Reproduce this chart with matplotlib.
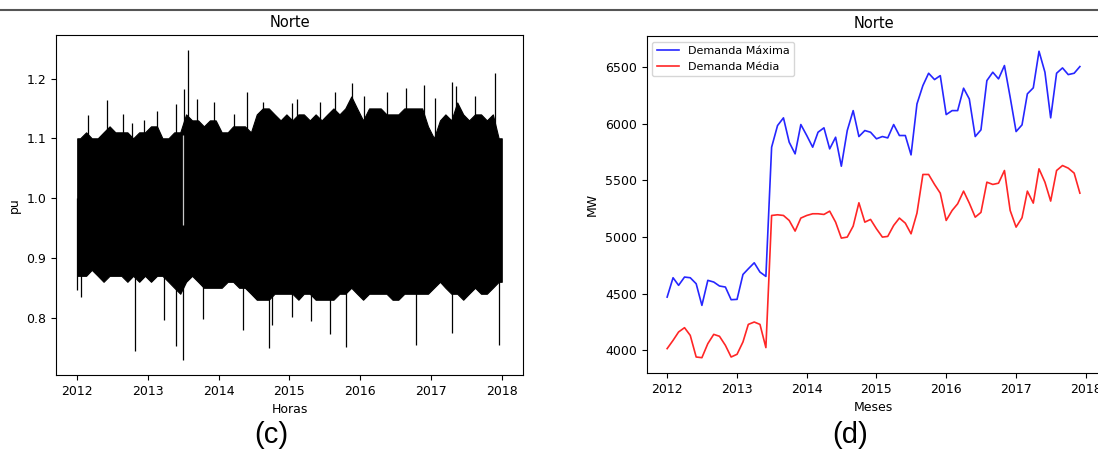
import pandas as pd
import matplotlib
matplotlib.use("Agg")
import matplotlib.pyplot as plt
import matplotlib.dates as mdates
from matplotlib.lines import Line2D

# --- hourly load in pu (Norte), reach of the daily swings per month ---
band_hi = [1.10, 1.11, 1.10, 1.10, 1.11, 1.12, 1.11, 1.11, 1.11, 1.10, 1.11, 1.11,
           1.12, 1.12, 1.10, 1.10, 1.11, 1.11, 1.14, 1.13, 1.13, 1.12, 1.13, 1.13,
           1.11, 1.11, 1.12, 1.12, 1.12, 1.11, 1.14, 1.15, 1.15, 1.14, 1.13, 1.14,
           1.13, 1.14, 1.14, 1.13, 1.14, 1.13, 1.14, 1.15, 1.14, 1.15, 1.17, 1.15,
           1.13, 1.15, 1.15, 1.15, 1.14, 1.14, 1.14, 1.15, 1.15, 1.15, 1.15, 1.12,
           1.10, 1.13, 1.14, 1.13, 1.16, 1.14, 1.13, 1.14, 1.14, 1.13, 1.14, 1.10]
band_lo = [0.87, 0.87, 0.88, 0.87, 0.86, 0.87, 0.87, 0.87, 0.86, 0.87, 0.86, 0.87,
           0.86, 0.87, 0.87, 0.86, 0.85, 0.84, 0.86, 0.87, 0.86, 0.85, 0.85, 0.85,
           0.85, 0.86, 0.86, 0.85, 0.85, 0.84, 0.83, 0.83, 0.83, 0.84, 0.84, 0.84,
           0.84, 0.83, 0.84, 0.84, 0.83, 0.83, 0.83, 0.83, 0.84, 0.84, 0.85, 0.84,
           0.83, 0.84, 0.84, 0.84, 0.84, 0.83, 0.83, 0.84, 0.84, 0.84, 0.84, 0.84,
           0.85, 0.86, 0.85, 0.84, 0.84, 0.83, 0.84, 0.85, 0.84, 0.84, 0.85, 0.86]

# isolated peaks / valleys (decimal year, pu)
peak_t = [2012.15, 2012.42, 2012.65, 2012.77, 2012.95, 2013.13, 2013.40, 2013.51,
          2013.57, 2013.69, 2013.93, 2014.22, 2014.40, 2014.63, 2015.03, 2015.10,
          2015.43, 2015.64, 2015.89, 2016.06, 2016.38, 2016.65, 2016.90, 2017.06,
          2017.29, 2017.35, 2017.62, 2017.90]
peak_v = [1.139, 1.164, 1.14, 1.126, 1.13, 1.146, 1.157, 1.182,
          1.247, 1.166, 1.161, 1.14, 1.178, 1.16, 1.159, 1.165,
          1.16, 1.178, 1.193, 1.17, 1.178, 1.184, 1.189, 1.167,
          1.195, 1.187, 1.17, 1.209]
valley_t = [2012.00, 2012.05, 2012.81, 2013.23, 2013.40, 2013.50, 2013.78, 2014.34,
            2014.71, 2014.75, 2015.04, 2015.31, 2015.57, 2015.80, 2016.79, 2017.30,
            2017.96]
valley_v = [0.846, 0.835, 0.745, 0.796, 0.752, 0.73, 0.797, 0.78,
            0.749, 0.787, 0.801, 0.794, 0.773, 0.751, 0.754, 0.774,
            0.754]

# --- monthly demand (MW) ---
dem_max = [4470, 4641, 4574, 4647, 4641, 4588, 4397, 4618, 4603, 4568, 4559, 4447,
           4450, 4670, 4720, 4773, 4691, 4653, 5794, 5985, 6053, 5838, 5735, 5994,
           5897, 5794, 5926, 5965, 5779, 5882, 5626, 5941, 6117, 5888, 5941, 5926,
           5868, 5888, 5876, 5994, 5897, 5897, 5726, 6176, 6338, 6447, 6391, 6426,
           6082, 6117, 6117, 6315, 6220, 5888, 5947, 6382, 6456, 6397, 6515, 6235,
           5932, 5991, 6265, 6318, 6641, 6456, 6053, 6447, 6494, 6435, 6447, 6506]
dem_med = [4015, 4088, 4162, 4200, 4132, 3941, 3935, 4059, 4141, 4124, 4044, 3941,
           3965, 4074, 4229, 4250, 4229, 4024, 5191, 5197, 5191, 5147, 5053, 5168,
           5191, 5206, 5206, 5200, 5229, 5132, 4991, 5000, 5097, 5303, 5132, 5156,
           5073, 5000, 5006, 5103, 5168, 5123, 5029, 5212, 5553, 5553, 5465, 5388,
           5147, 5235, 5294, 5406, 5300, 5176, 5218, 5485, 5465, 5476, 5588, 5235,
           5088, 5171, 5406, 5300, 5603, 5485, 5318, 5588, 5632, 5609, 5565, 5388]


def yr(t):
    t = pd.Series(t, dtype=float)
    base = pd.to_datetime(t.astype(int).astype(str) + "-01-01")
    return base + pd.to_timedelta((t - t.astype(int)) * 365.25, unit="D")


def pad(v):
    return [v[0]] + list(v) + [v[-1]]


plt.rcParams["font.family"] = "DejaVu Sans"
fig = plt.figure(figsize=(10.98, 4.5), dpi=100)

months = pd.date_range("2012-01-01", periods=72, freq="MS")
mid = months + pd.Timedelta(days=15)

# ---------------- (c) hourly pu ----------------
ax1 = fig.add_axes([0.051, 0.1667, 0.4253, 0.7556])
x_band = [pd.Timestamp("2012-01-01")] + list(mid) + [pd.Timestamp("2017-12-31 23:00")]
ax1.fill_between(x_band, pad(band_lo), pad(band_hi), color="black", lw=0.8)
ax1.vlines(yr(peak_t), 1.0, peak_v, color="black", lw=0.9)
ax1.vlines(yr(valley_t), valley_v, 1.0, color="black", lw=0.9)
# short gap in the record mid-2013
ax1.vlines(yr([2013.50]), 0.955, 1.105, color="#c8c8c8", lw=0.9)

ax1.set_title("Norte", fontsize=10.5)
ax1.set_xlabel("Horas", fontsize=9)
ax1.set_ylabel("pu", fontsize=9)

# ---------------- (d) monthly MW ----------------
ax2 = fig.add_axes([0.5888, 0.1711, 0.4135, 0.749])
ax2.plot(months, dem_max, color="blue", lw=1.2, alpha=0.85, label="Demanda Máxima")
ax2.plot(months, dem_med, color="red", lw=1.2, alpha=0.85, label="Demanda Média")
ax2.legend(loc="upper left", fontsize=8, handlelength=2.0)
ax2.set_title("Norte", fontsize=10.5)
ax2.set_xlabel("Meses", fontsize=9)
ax2.set_ylabel("MW", fontsize=9)

for ax in (ax1, ax2):
    ax.xaxis.set_major_locator(mdates.YearLocator())
    ax.xaxis.set_major_formatter(mdates.DateFormatter("%Y"))
    ax.tick_params(labelsize=9)

# separator rule and panel captions
fig.add_artist(Line2D([0, 1], [0.978, 0.978], color="#555555", lw=1.5))
fig.text(271 / 1098, 1 - 435 / 450, "(c)", family="Liberation Sans",
         fontsize=21, ha="center", va="center")
fig.text(850 / 1098, 1 - 435 / 450, "(d)", family="Liberation Sans",
         fontsize=21, ha="center", va="center")

fig.savefig("out.png", dpi=100)
